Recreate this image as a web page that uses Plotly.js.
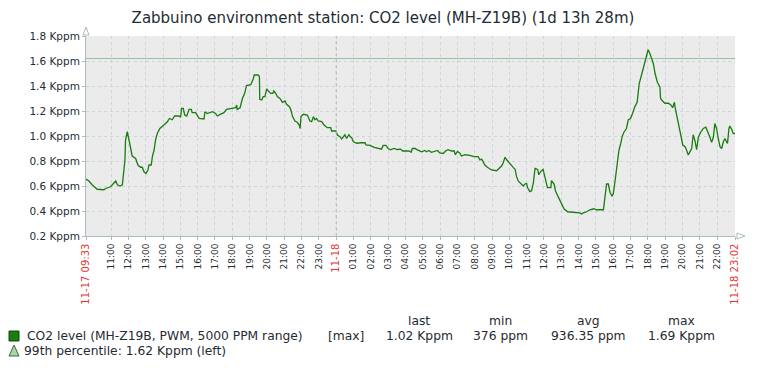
<!DOCTYPE html>
<html>
<head>
<meta charset="utf-8">
<script src="https://cdn.plot.ly/plotly-3.0.1.min.js"></script>
<style>html,body{margin:0;padding:0;background:#fff;}#chart{width:766px;height:368px;}</style>
</head>
<body>
<div id="chart"></div>
<script>
// ---- DATA ----
const titleText = 'Zabbuino environment station: CO2 level (MH-Z19B) (1d 13h 28m)';
const startTime = '2019-11-17 09:33';
const endTime = '2019-11-18 23:02';
const percentile99 = 1.62; // Kppm

const times = [
'2019-11-17 09:33','2019-11-17 09:43','2019-11-17 09:55','2019-11-17 10:12','2019-11-17 10:35','2019-11-17 10:41','2019-11-17 10:58','2019-11-17 11:10','2019-11-17 11:16','2019-11-17 11:22',
'2019-11-17 11:31','2019-11-17 11:39','2019-11-17 11:42','2019-11-17 11:48','2019-11-17 11:50','2019-11-17 11:56','2019-11-17 12:02','2019-11-17 12:08','2019-11-17 12:13','2019-11-17 12:25',
'2019-11-17 12:33','2019-11-17 12:42','2019-11-17 12:48','2019-11-17 12:54','2019-11-17 13:01','2019-11-17 13:08','2019-11-17 13:11','2019-11-17 13:19','2019-11-17 13:23','2019-11-17 13:29',
'2019-11-17 13:34','2019-11-17 13:40','2019-11-17 13:49','2019-11-17 14:03','2019-11-17 14:15','2019-11-17 14:22','2019-11-17 14:32','2019-11-17 14:40','2019-11-17 14:55','2019-11-17 15:01',
'2019-11-17 15:04','2019-11-17 15:10','2019-11-17 15:15','2019-11-17 15:22','2019-11-17 15:30','2019-11-17 15:38','2019-11-17 15:41','2019-11-17 15:53','2019-11-17 16:05','2019-11-17 16:22',
'2019-11-17 16:25','2019-11-17 16:33','2019-11-17 16:39','2019-11-17 16:51','2019-11-17 17:02','2019-11-17 17:08','2019-11-17 17:20','2019-11-17 17:31','2019-11-17 17:40','2019-11-17 17:54',
'2019-11-17 18:12','2019-11-17 18:15','2019-11-17 18:17','2019-11-17 18:27','2019-11-17 18:35','2019-11-17 18:43','2019-11-17 18:49','2019-11-17 19:04','2019-11-17 19:09','2019-11-17 19:13',
'2019-11-17 19:16','2019-11-17 19:30','2019-11-17 19:34','2019-11-17 19:35','2019-11-17 19:42','2019-11-17 19:47','2019-11-17 19:53','2019-11-17 19:59','2019-11-17 20:05','2019-11-17 20:13',
'2019-11-17 20:20','2019-11-17 20:24','2019-11-17 20:31','2019-11-17 20:36','2019-11-17 20:45','2019-11-17 20:54','2019-11-17 21:03','2019-11-17 21:08','2019-11-17 21:18','2019-11-17 21:23',
'2019-11-17 21:29','2019-11-17 21:37','2019-11-17 21:45','2019-11-17 21:52','2019-11-17 21:55','2019-11-17 21:58','2019-11-17 22:06','2019-11-17 22:20','2019-11-17 22:29','2019-11-17 22:35',
'2019-11-17 22:41','2019-11-17 22:46','2019-11-17 22:52','2019-11-17 22:58','2019-11-17 23:10','2019-11-17 23:18','2019-11-17 23:29','2019-11-17 23:41','2019-11-17 23:44','2019-11-17 23:59',
'2019-11-18 00:04','2019-11-18 00:13','2019-11-18 00:19','2019-11-18 00:27','2019-11-18 00:30','2019-11-18 00:36','2019-11-18 00:44','2019-11-18 00:48','2019-11-18 00:54','2019-11-18 00:59',
'2019-11-18 01:11','2019-11-18 01:26','2019-11-18 01:40','2019-11-18 01:43','2019-11-18 01:57','2019-11-18 02:12','2019-11-18 02:26','2019-11-18 02:37','2019-11-18 02:43','2019-11-18 02:52',
'2019-11-18 03:00','2019-11-18 03:08','2019-11-18 03:20','2019-11-18 03:31','2019-11-18 03:43','2019-11-18 03:50','2019-11-18 03:58','2019-11-18 04:13','2019-11-18 04:20','2019-11-18 04:24',
'2019-11-18 04:35','2019-11-18 04:38','2019-11-18 04:56','2019-11-18 05:07','2019-11-18 05:13','2019-11-18 05:21','2019-11-18 05:30','2019-11-18 05:42','2019-11-18 05:51','2019-11-18 05:59',
'2019-11-18 06:11','2019-11-18 06:19','2019-11-18 06:28','2019-11-18 06:40','2019-11-18 06:49','2019-11-18 06:53','2019-11-18 07:00','2019-11-18 07:08','2019-11-18 07:14','2019-11-18 07:26',
'2019-11-18 07:35','2019-11-18 07:43','2019-11-18 07:58','2019-11-18 08:12','2019-11-18 08:18','2019-11-18 08:24','2019-11-18 08:29','2019-11-18 08:35','2019-11-18 08:44','2019-11-18 08:58',
'2019-11-18 09:16','2019-11-18 09:25','2019-11-18 09:33','2019-11-18 09:39','2019-11-18 09:45','2019-11-18 09:51','2019-11-18 09:59','2019-11-18 10:06','2019-11-18 10:14','2019-11-18 10:20',
'2019-11-18 10:25','2019-11-18 10:31','2019-11-18 10:40','2019-11-18 10:48','2019-11-18 10:54','2019-11-18 11:00','2019-11-18 11:03','2019-11-18 11:11','2019-11-18 11:17','2019-11-18 11:23',
'2019-11-18 11:29','2019-11-18 11:38','2019-11-18 11:42','2019-11-18 11:49','2019-11-18 11:57','2019-11-18 12:03','2019-11-18 12:12','2019-11-18 12:24','2019-11-18 12:26','2019-11-18 12:35',
'2019-11-18 12:40','2019-11-18 12:49','2019-11-18 13:01','2019-11-18 13:10','2019-11-18 13:22','2019-11-18 13:47','2019-11-18 14:04','2019-11-18 14:10','2019-11-18 14:16','2019-11-18 14:28',
'2019-11-18 14:39','2019-11-18 14:53','2019-11-18 15:02','2019-11-18 15:26','2019-11-18 15:31','2019-11-18 15:37','2019-11-18 15:43','2019-11-18 15:49','2019-11-18 15:56','2019-11-18 16:00',
'2019-11-18 16:06','2019-11-18 16:09','2019-11-18 16:14','2019-11-18 16:20','2019-11-18 16:26','2019-11-18 16:31','2019-11-18 16:37','2019-11-18 16:46','2019-11-18 16:52','2019-11-18 17:00',
'2019-11-18 17:07','2019-11-18 17:15','2019-11-18 17:23','2019-11-18 17:30','2019-11-18 17:38','2019-11-18 17:44','2019-11-18 17:50','2019-11-18 17:56','2019-11-18 18:01','2019-11-18 18:07',
'2019-11-18 18:13','2019-11-18 18:19','2019-11-18 18:25','2019-11-18 18:33','2019-11-18 18:42','2019-11-18 18:44','2019-11-18 18:51','2019-11-18 18:59','2019-11-18 19:11','2019-11-18 19:19',
'2019-11-18 19:26','2019-11-18 19:32','2019-11-18 19:36','2019-11-18 19:42','2019-11-18 19:49','2019-11-18 19:54','2019-11-18 20:01','2019-11-18 20:09','2019-11-18 20:14','2019-11-18 20:20',
'2019-11-18 20:26','2019-11-18 20:32','2019-11-18 20:37','2019-11-18 20:43','2019-11-18 20:49','2019-11-18 20:55','2019-11-18 21:03','2019-11-18 21:12','2019-11-18 21:21','2019-11-18 21:29',
'2019-11-18 21:35','2019-11-18 21:41','2019-11-18 21:47','2019-11-18 21:52','2019-11-18 21:58','2019-11-18 22:04','2019-11-18 22:10','2019-11-18 22:16','2019-11-18 22:21','2019-11-18 22:27',
'2019-11-18 22:33','2019-11-18 22:36','2019-11-18 22:41','2019-11-18 22:44','2019-11-18 22:50','2019-11-18 22:56','2019-11-18 23:02'
];

const co2 = [
0.655,0.64,0.608,0.574,0.57,0.58,0.594,0.626,0.64,0.61,
0.60,0.61,0.688,0.808,0.968,1.034,0.968,0.90,0.84,0.82,
0.768,0.75,0.75,0.714,0.70,0.73,0.768,0.768,0.835,0.888,
0.968,1.021,1.061,1.088,1.114,1.14,1.13,1.16,1.16,1.15,
1.221,1.221,1.168,1.16,1.213,1.213,1.187,1.187,1.141,1.136,
1.194,1.18,1.185,1.194,1.18,1.16,1.175,1.187,1.213,1.22,
1.226,1.248,1.213,1.226,1.30,1.341,1.403,1.41,1.435,1.46,
1.488,1.488,1.475,1.294,1.288,1.315,1.315,1.376,1.36,1.341,
1.341,1.36,1.34,1.315,1.30,1.269,1.28,1.253,1.235,1.208,
1.155,1.12,1.11,1.088,1.06,1.155,1.174,1.168,1.12,1.115,
1.155,1.13,1.14,1.12,1.115,1.088,1.067,1.067,1.04,1.04,
1.008,0.995,0.977,0.995,1.01,0.98,1.01,0.995,0.985,0.955,
0.942,0.946,0.946,0.928,0.925,0.909,0.90,0.895,0.925,0.925,
0.90,0.89,0.90,0.892,0.895,0.88,0.88,0.88,0.87,0.90,
0.90,0.893,0.874,0.884,0.874,0.884,0.87,0.877,0.884,0.864,
0.86,0.88,0.89,0.88,0.88,0.85,0.876,0.864,0.84,0.85,
0.85,0.845,0.835,0.835,0.808,0.815,0.795,0.768,0.75,0.728,
0.722,0.741,0.76,0.786,0.83,0.81,0.786,0.765,0.747,0.734,
0.675,0.64,0.616,0.60,0.616,0.62,0.587,0.555,0.562,0.62,
0.741,0.733,0.69,0.716,0.733,0.68,0.587,0.587,0.643,0.615,
0.56,0.515,0.46,0.416,0.394,0.39,0.385,0.376,0.385,0.394,
0.41,0.418,0.41,0.41,0.515,0.616,0.616,0.548,0.52,0.535,
0.634,0.70,0.808,0.888,0.94,0.995,1.03,1.06,1.128,1.14,
1.18,1.235,1.27,1.42,1.488,1.541,1.595,1.667,1.69,1.66,
1.62,1.58,1.50,1.43,1.39,1.30,1.28,1.262,1.262,1.25,
1.226,1.27,1.21,1.15,1.06,1.008,0.928,0.915,0.888,0.848,
0.875,0.90,1.01,0.965,0.89,0.99,1.03,1.06,1.07,1.03,
0.99,0.95,0.99,1.10,1.06,0.98,0.915,0.90,0.95,0.98,
0.96,0.94,1.06,1.08,1.055,1.02,1.02
];

const tickTimes = [
'2019-11-17 09:33','2019-11-17 11:00','2019-11-17 12:00','2019-11-17 13:00','2019-11-17 14:00','2019-11-17 15:00','2019-11-17 16:00','2019-11-17 17:00','2019-11-17 18:00','2019-11-17 19:00',
'2019-11-17 20:00','2019-11-17 21:00','2019-11-17 22:00','2019-11-17 23:00','2019-11-18 00:00','2019-11-18 01:00','2019-11-18 02:00','2019-11-18 03:00','2019-11-18 04:00','2019-11-18 05:00',
'2019-11-18 06:00','2019-11-18 07:00','2019-11-18 08:00','2019-11-18 09:00','2019-11-18 10:00','2019-11-18 11:00','2019-11-18 12:00','2019-11-18 13:00','2019-11-18 14:00','2019-11-18 15:00',
'2019-11-18 16:00','2019-11-18 17:00','2019-11-18 18:00','2019-11-18 19:00','2019-11-18 20:00','2019-11-18 21:00','2019-11-18 22:00','2019-11-18 23:02'
];
const tickLabels = [
'11-17 09:33','11:00','12:00','13:00','14:00','15:00','16:00','17:00','18:00','19:00',
'20:00','21:00','22:00','23:00','11-18','01:00','02:00','03:00','04:00','05:00',
'06:00','07:00','08:00','09:00','10:00','11:00','12:00','13:00','14:00','15:00',
'16:00','17:00','18:00','19:00','20:00','21:00','22:00','11-18 23:02'
];
const redLabels = ['11-17 09:33','11-18','11-18 23:02'];
const midnight = '2019-11-18 00:00';

const legendName = 'CO2 level (MH-Z19B, PWM, 5000 PPM range)';
const legendFunc = '[max]';
const statHeaders = ['last','min','avg','max'];
const statValues = ['1.02 Kppm','376 ppm','936.35 ppm','1.69 Kppm'];
const percentileLabel = '99th percentile: 1.62 Kppm (left)';

// ---- STYLE / LAYOUT ----
const W = 766, H = 368;
const L = 86, R = 31, T = 36, B = 132;
const PW = W - L - R, PH = H - T - B;
const px = x => (x - L) / PW;          // pixel -> paper x
const py = y => (H - B - y) / PH;      // pixel -> paper y

const FONT = 'DejaVu Sans';
const TXT = '#1F2C33';
const RED = '#E33734';
const GRID = '#CCD5D9';
const AXIS = '#ACBBC2';
const SERIES = '#1A7C11';
const LEG = 12.3;

const ticktext = tickLabels.map(t => redLabels.includes(t)
  ? '<span style="color:' + RED + ';font-size:10px">' + t + '</span>' : t);

const traces = [
  { x: times, y: co2, type: 'scatter', mode: 'lines', line: {color: SERIES, width: 1.3}, hoverinfo: 'skip' },
  { x: [startTime, endTime], y: [percentile99, percentile99], type: 'scatter', mode: 'lines', line: {color: 'rgba(66,158,71,0.5)', width: 1}, hoverinfo: 'skip' }
];

const statX = [419, 501, 588, 681];
const annotations = [];
statHeaders.forEach((h, i) => {
  annotations.push({xref: 'paper', yref: 'paper', x: px(statX[i]), y: py(321), text: h, showarrow: false, xanchor: 'center', yanchor: 'middle', font: {family: FONT, size: LEG, color: TXT}});
  annotations.push({xref: 'paper', yref: 'paper', x: px(statX[i]), y: py(336), text: statValues[i], showarrow: false, xanchor: 'center', yanchor: 'middle', font: {family: FONT, size: LEG, color: TXT}});
});
annotations.push({xref: 'paper', yref: 'paper', x: px(25), y: py(336), text: legendName, showarrow: false, xanchor: 'left', yanchor: 'middle', font: {family: FONT, size: LEG, color: TXT}});
annotations.push({xref: 'paper', yref: 'paper', x: px(346), y: py(336), text: legendFunc, showarrow: false, xanchor: 'center', yanchor: 'middle', font: {family: FONT, size: LEG, color: TXT}});
annotations.push({xref: 'paper', yref: 'paper', x: px(22), y: py(351), text: percentileLabel, showarrow: false, xanchor: 'left', yanchor: 'middle', font: {family: FONT, size: LEG, color: TXT}});

const shapes = [
  {type: 'line', xref: 'x', yref: 'paper', x0: midnight, x1: midnight, y0: 0, y1: 1, line: {color: AXIS, width: 1, dash: '3px,3px'}},
  {type: 'rect', xref: 'paper', yref: 'paper', x0: px(9), x1: px(19), y0: py(341), y1: py(331), fillcolor: SERIES, line: {color: '#0F4D0A', width: 1}},
  {type: 'path', xref: 'paper', yref: 'paper', path: 'M ' + px(9) + ' ' + py(356) + ' L ' + px(19) + ' ' + py(356) + ' L ' + px(14) + ' ' + py(345) + ' Z', fillcolor: '#A8D5A8', line: {color: '#3A6B3A', width: 1}},
  {type: 'path', xref: 'paper', yref: 'paper', path: 'M ' + px(83) + ' ' + py(35) + ' L ' + px(89) + ' ' + py(35) + ' L ' + px(86) + ' ' + py(27) + ' Z', fillcolor: 'rgba(0,0,0,0)', line: {color: AXIS, width: 1}},
  {type: 'path', xref: 'paper', yref: 'paper', path: 'M ' + px(737) + ' ' + py(233) + ' L ' + px(737) + ' ' + py(239) + ' L ' + px(745) + ' ' + py(236) + ' Z', fillcolor: 'rgba(0,0,0,0)', line: {color: AXIS, width: 1}}
];

const layout = {
  width: W, height: H,
  margin: {l: L, r: R, t: T, b: B, pad: 0},
  paper_bgcolor: '#FFFFFF',
  plot_bgcolor: '#EBEBEB',
  showlegend: false,
  font: {family: FONT, color: TXT},
  title: {text: titleText, x: 0.5, xref: 'container', xanchor: 'center', y: 1 - 18 / H, yref: 'container', yanchor: 'middle', font: {family: FONT, size: 15, color: TXT}},
  xaxis: {
    type: 'date', range: [startTime, endTime],
    tickmode: 'array', tickvals: tickTimes, ticktext: ticktext, tickangle: -90,
    tickfont: {family: FONT, size: 9, color: TXT},
    showgrid: true, gridcolor: GRID, griddash: '3px,3px', gridwidth: 1,
    showline: true, linecolor: AXIS, linewidth: 1,
    ticks: 'outside', ticklen: 3, tickcolor: AXIS,
    zeroline: false, fixedrange: true
  },
  yaxis: {
    range: [0.2, 1.8], tick0: 0.2, dtick: 0.2, tickformat: '.1f', ticksuffix: ' Kppm',
    tickfont: {family: FONT, size: 10.5, color: TXT},
    showgrid: true, gridcolor: GRID, griddash: '3px,3px', gridwidth: 1,
    showline: true, linecolor: AXIS, linewidth: 1,
    ticks: 'outside', ticklen: 3, tickcolor: AXIS,
    zeroline: false, fixedrange: true
  },
  annotations: annotations,
  shapes: shapes
};

Plotly.newPlot('chart', traces, layout, {displayModeBar: false, staticPlot: true});
</script>
</body>
</html>
